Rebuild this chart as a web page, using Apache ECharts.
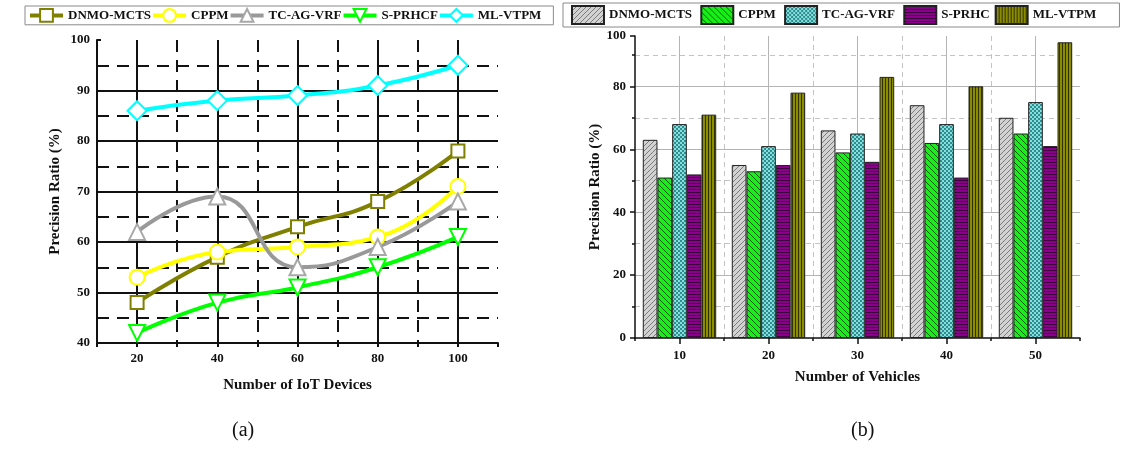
<!DOCTYPE html>
<html>
<head>
<meta charset="utf-8">
<script src="https://cdn.jsdelivr.net/npm/echarts@6/dist/echarts.min.js"></script>
<style>
  html, body { margin: 0; padding: 0; background: #fff; }
  #chart { width: 1123px; height: 450px; }
</style>
</head>
<body>
<div id="chart"></div>
<script>
// ---- Panel (a): precision ratio vs number of IoT devices ----
const devices = ['20', '40', '60', '80', '100'];
const dnmoA   = [48, 57, 63, 68, 78];
const cppmA   = [53, 58, 59, 61, 71];
const tcagA   = [62, 69, 55, 59, 68];
const sprhcfA = [42, 48, 51, 55, 61];
const mlvtpmA = [86, 88, 89, 91, 95];

// ---- Panel (b): precision ratio vs number of vehicles ----
const vehicles = ['10', '20', '30', '40', '50'];
const dnmoB   = [63, 55, 66, 74, 70];
const cppmB   = [51, 53, 59, 62, 65];
const tcagB   = [68, 61, 65, 68, 75];
const sprhcB  = [52, 55, 56, 51, 61];
const mlvtpmB = [71, 78, 83, 80, 94];
const yLabelsB = ['0', '20', '40', '60', '80', '100'];

const SERIF = '"Liberation Serif", "Times New Roman", serif';

// small tiled canvases used as bar fill patterns
function tile(size, bg, fg, draw) {
  const c = document.createElement('canvas');
  c.width = c.height = size;
  const g = c.getContext('2d');
  g.fillStyle = bg;
  g.fillRect(0, 0, size, size);
  g.strokeStyle = fg;
  g.fillStyle = fg;
  g.lineWidth = 1;
  draw(g, size);
  return { image: c, repeat: 'repeat' };
}
function slashUp(g, s) {
  g.beginPath();
  g.moveTo(-1, s + 1); g.lineTo(s + 1, -1);
  g.moveTo(-1, 1); g.lineTo(1, -1);
  g.moveTo(s - 1, s + 1); g.lineTo(s + 1, s - 1);
  g.stroke();
}
function slashDown(g, s) {
  g.beginPath();
  g.moveTo(-1, -1); g.lineTo(s + 1, s + 1);
  g.moveTo(s - 1, -1); g.lineTo(s + 1, 1);
  g.moveTo(-1, s - 1); g.lineTo(1, s + 1);
  g.stroke();
}
const patDNMO = tile(5, '#d2d2d2', '#7c7c7c', slashUp);
const patCPPM = tile(6, '#16f016', '#0a5a0a', slashDown);
const patTC   = tile(4, '#86dede', '#2e8e8e', (g) => { g.fillRect(0, 0, 2, 2); g.fillRect(2, 2, 2, 2); });
const patSP   = tile(3, '#8a008a', '#3c003c', (g) => { g.fillRect(0, 0, 3, 1); });
const patML   = tile(3, '#8c8c00', '#323200', (g) => { g.fillRect(0, 0, 1, 3); });

const dashA = [12, 8];
const ink = '#111';

function lineSeries(name, data, color, symbol, size, rotate, border) {
  return {
    name, type: 'line', xAxisIndex: 0, yAxisIndex: 0, data,
    smooth: true, symbol, symbolSize: size, symbolRotate: rotate || 0,
    lineStyle: { color, width: 4 },
    itemStyle: { color: '#fff', borderColor: border || color, borderWidth: 2 },
    emphasis: { disabled: true }
  };
}
function barSeries(name, data, pattern) {
  return {
    name, type: 'bar', xAxisIndex: 2, yAxisIndex: 2, data,
    barGap: '0%', barCategoryGap: '17.5%',
    itemStyle: { color: pattern, borderColor: '#222', borderWidth: 1 },
    emphasis: { disabled: true }
  };
}

const legendText = { fontFamily: SERIF, fontWeight: 'bold', fontSize: 13, color: '#111' };

const option = {
  animation: false,
  backgroundColor: '#fff',
  textStyle: { fontFamily: SERIF },
  legend: [
    {
      data: ['DNMO-MCTS', 'CPPM', 'TC-AG-VRF', 'S-PRHCF', 'ML-VTPM'],
      left: 25, top: 6, padding: [2, 12, 2, 3],
      itemWidth: 33, itemHeight: 16, itemGap: 0,
      lineStyle: { width: 4 },
      borderColor: '#8a8a8a', borderWidth: 1,
      textStyle: legendText
    },
    {
      data: ['DNMO-MCTS ', 'CPPM ', 'TC-AG-VRF ', 'S-PRHC', 'ML-VTPM '],
      left: 563, top: 3, width: 540, padding: [2, 20, 2, 8],
      icon: 'rect', itemWidth: 32, itemHeight: 18, itemGap: 5,
      borderColor: '#8a8a8a', borderWidth: 1,
      textStyle: legendText
    }
  ],
  grid: [
    { left: 97, top: 40, width: 401, height: 303 },
    { left: 635, top: 36, width: 445, height: 302 }
  ],
  xAxis: [
    { // (a) categories; dashed lines fall on the band edges
      type: 'category', gridIndex: 0, position: 'bottom', data: devices, boundaryGap: true,
      name: 'Number of IoT Devices', nameLocation: 'middle', nameGap: 35,
      nameTextStyle: { fontFamily: SERIF, fontWeight: 'bold', fontSize: 15, color: '#111' },
      axisLine: { lineStyle: { color: ink, width: 2 } },
      axisTick: { show: true, length: 4, lineStyle: { color: ink, width: 2 } },
      axisLabel: { margin: 9, fontFamily: SERIF, fontWeight: 'bold', fontSize: 13, color: '#111' },
      splitLine: { show: true, showMinLine: false, showMaxLine: false, lineStyle: { color: ink, width: 2, type: dashA } }
    },
    { // (a) solid lines through the category centres
      type: 'value', gridIndex: 0, position: 'bottom', min: 10, max: 110, interval: 20,
      axisLine: { show: false }, axisLabel: { show: false }, axisTick: { show: false },
      splitLine: { show: false },
      minorTick: { show: true, splitNumber: 2, length: 4, lineStyle: { color: ink, width: 2 } },
      minorSplitLine: { show: true, lineStyle: { color: ink, width: 2 } }
    },
    { // (b) categories; dashed lines on band edges
      type: 'category', gridIndex: 1, position: 'bottom', data: vehicles, boundaryGap: true,
      name: 'Number of Vehicles', nameLocation: 'middle', nameGap: 32,
      nameTextStyle: { fontFamily: SERIF, fontWeight: 'bold', fontSize: 15, color: '#111' },
      axisLine: { lineStyle: { color: ink, width: 1.5 } },
      axisTick: { show: true, length: 3, lineStyle: { color: ink, width: 1.5 } },
      axisLabel: { margin: 11, fontFamily: SERIF, fontWeight: 'bold', fontSize: 13, color: '#111' },
      splitLine: { show: true, showMinLine: false, showMaxLine: false, lineStyle: { color: '#c4c4c4', width: 1, type: [5, 4] } }
    },
    { // (b) solid lines through the category centres
      type: 'value', gridIndex: 1, position: 'bottom', min: 5, max: 55, interval: 10,
      axisLine: { show: false }, axisLabel: { show: false }, axisTick: { show: false },
      splitLine: { show: false },
      minorTick: { show: true, splitNumber: 2, length: 6, lineStyle: { color: ink, width: 1.5 } },
      minorSplitLine: { show: true, lineStyle: { color: '#b4b4b4', width: 1 } }
    }
  ],
  yAxis: [
    {
      type: 'value', gridIndex: 0, position: 'left', min: 40, max: 100, interval: 10,
      name: 'Precision Ratio (%)', nameLocation: 'middle', nameGap: 34, nameRotate: 90,
      nameTextStyle: { fontFamily: SERIF, fontWeight: 'bold', fontSize: 15, color: '#111' },
      axisLine: { show: true, lineStyle: { color: ink, width: 2 } },
      axisTick: { show: true, inside: true, length: 4, lineStyle: { color: ink, width: 2 } },
      axisLabel: { margin: 7, fontFamily: SERIF, fontWeight: 'bold', fontSize: 13, color: '#111' },
      splitLine: { show: true, showMinLine: false, showMaxLine: false, lineStyle: { color: ink, width: 2 } },
      minorTick: { show: false, splitNumber: 2 },
      minorSplitLine: { show: true, lineStyle: { color: ink, width: 2, type: dashA } }
    },
    { // (b) dashed lines every 10
      type: 'value', gridIndex: 1, position: 'left', min: 0, max: 96, interval: 10,
      axisLine: { show: false }, axisLabel: { show: false },
      axisTick: { show: true, length: 3, lineStyle: { color: ink, width: 1.5 } },
      splitLine: { show: true, showMinLine: false, showMaxLine: false, lineStyle: { color: '#c4c4c4', width: 1, type: [5, 4] } }
    },
    { // (b) labelled axis with solid lines every 20
      type: 'value', gridIndex: 1, position: 'left', min: 0, max: 96, interval: 20,
      name: 'Precision Ratio (%)', nameLocation: 'middle', nameGap: 29, nameRotate: 90,
      nameTextStyle: { fontFamily: SERIF, fontWeight: 'bold', fontSize: 15, color: '#111' },
      axisLine: { show: true, lineStyle: { color: ink, width: 1.5 } },
      axisTick: { show: true, length: 5, lineStyle: { color: ink, width: 1.5 } },
      axisLabel: {
        margin: 9, fontFamily: SERIF, fontWeight: 'bold', fontSize: 13, color: '#111',
        formatter: (v, i) => yLabelsB[i]
      },
      splitLine: { show: true, showMinLine: false, showMaxLine: false, lineStyle: { color: '#b4b4b4', width: 1 } }
    }
  ],
  series: [
    lineSeries('DNMO-MCTS', dnmoA, '#808000', 'rect', 13),
    lineSeries('CPPM', cppmA, '#ffff00', 'circle', 15),
    lineSeries('TC-AG-VRF', tcagA, '#999999', 'triangle', 16, 0, '#a8a8a8'),
    lineSeries('S-PRHCF', sprhcfA, '#00ff00', 'triangle', 16, 180),
    lineSeries('ML-VTPM', mlvtpmA, '#00ffff', 'diamond', 19),
    barSeries('DNMO-MCTS ', dnmoB, patDNMO),
    barSeries('CPPM ', cppmB, patCPPM),
    barSeries('TC-AG-VRF ', tcagB, patTC),
    barSeries('S-PRHC', sprhcB, patSP),
    barSeries('ML-VTPM ', mlvtpmB, patML)
  ],
  graphic: [
    { type: 'text', left: 232, top: 421, style: { text: '(a)', font: '20px ' + SERIF, fill: '#111' } },
    { type: 'text', left: 851, top: 421, style: { text: '(b)', font: '20px ' + SERIF, fill: '#111' } }
  ]
};

const chart = echarts.init(document.getElementById('chart'), null, { renderer: 'canvas' });
chart.setOption(option);
</script>
</body>
</html>
